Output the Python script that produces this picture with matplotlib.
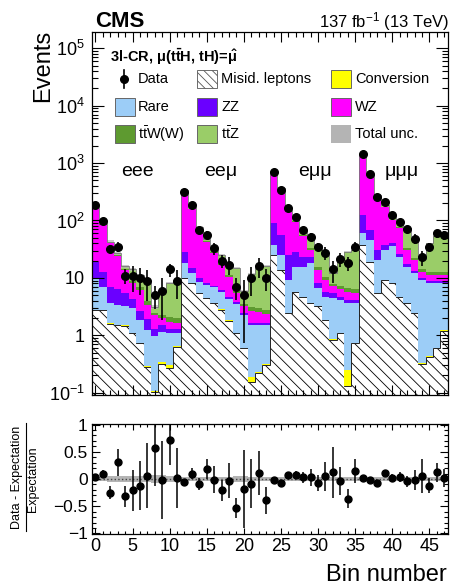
import numpy as np
import matplotlib
matplotlib.use('Agg')
import matplotlib.pyplot as plt
from matplotlib.patches import Rectangle
from matplotlib.lines import Line2D
from matplotlib.ticker import FixedLocator, FixedFormatter, MultipleLocator, NullFormatter

plt.rcParams['font.family'] = ['Liberation Sans', 'DejaVu Sans']
plt.rcParams['mathtext.fontset'] = 'custom'
plt.rcParams['mathtext.rm'] = 'Liberation Sans'
plt.rcParams['mathtext.it'] = 'Liberation Sans:italic'
plt.rcParams['mathtext.bf'] = 'Liberation Sans:bold'
plt.rcParams['mathtext.default'] = 'regular'
plt.rcParams['hatch.linewidth'] = 0.6

# ---------------- data ----------------
bin_number = np.arange(48)
channels = ['eee', 'ee\u03bc', 'e\u03bc\u03bc', '\u03bc\u03bc\u03bc']
channel_pos = [5.6, 16.9, 29.6, 41.3]

data = [186, 98, 32, 35, 11, 11, 10, 9, 5, 6, 14, 9,
        318, 186, 68, 56, 33, 20, 17, 7, 5, 10, 16, 10,
        690, 340, 163, 116, 68, 52, 35, 27, 14, 21, 18, 35,
        1440, 645, 260, 207, 124, 95, 70, 48, 23, 35, 60, 56]

misid = [2.8, 2.8, 1.6, 1.5, 1.45, 1.1, 0.73, 0.28, 0.10, 0.32, 0.27, 0.63,
         10, 8, 5.5, 4.5, 3.7, 2.8, 1.8, 1.1, 0.6, 0.15, 0.22, 0.3,
         25, 13.7, 2.4, 5.75, 4.7, 3.6, 3.2, 1.85, 0.83, 1.08, 0.127, 0.72,
         37, 19, 5.4, 9.2, 8.0, 4.7, 3.6, 2.4, 0.32, 0.42, 0.6, 1.2]
conversion = [0.01, 0.01, 0.01, 0.01, 0.05, 0.01, 0.01, 0.01, 0.005, 0.025, 0.03, 0.01,
              0.02, 0.02, 0.02, 0.02, 0.02, 0.02, 0.01, 0.01, 0.01, 0.04, 0.01, 0.01,
              0.05, 0.05, 0.02, 0.02, 0.02, 0.02, 0.02, 0.02, 0.02, 0.02, 0.12, 0.02,
              0.05, 0.05, 0.02, 0.02, 0.02, 0.02, 0.02, 0.02, 0.01, 0.01, 0.01, 0.01]
rare = [7.0, 4.2, 2.0, 1.9, 1.7, 1.9, 1.1, 0.95, 0.85, 0.8, 0.78, 0.45,
        8, 4, 3, 3, 3.1, 2.8, 2.5, 2.4, 1.6, 1.31, 1.28, 1.2,
        12, 11.3, 6.8, 10, 11, 14.3, 3.4, 2.85, 3.57, 3.0, 3.35, 2.88,
        24, 27, 15.1, 20.8, 28, 18.7, 12.1, 9.6, 8.9, 7.6, 7.4, 6.8]
zz = [9.2, 5.8, 3.4, 3.1, 2.3, 1.2, 0.85, 0.66, 0.35, 0.34, 0.22, 0.17,
      10, 3, 1.5, 0.7, 0.5, 0.5, 0.4, 0.3, 0.2, 0.15, 0.15, 0.15,
      52, 31, 15.8, 12.3, 7.7, 5.5, 1.4, 1.05, 1.0, 0.6, 0.5, 0.5,
      63, 22, 10.1, 8, 4, 2.6, 1.8, 1.0, 0.8, 0.8, 0.8, 0.8]
wz = [155, 72, 33, 17.5, 8.2, 3.8, 3.5, 1.5, 0.96, 0.48, 0.43, 0.35,
      292, 143, 56, 33.8, 19.7, 10.7, 5.8, 1.6, 0.8, 0.95, 0.85, 0.65,
      591, 294, 117, 67, 30.6, 7.2, 5.7, 3.45, 1.7, 1.6, 1.65, 1.3,
      1276, 562, 231.4, 132, 60, 47, 13.1, 7.5, 2.8, 2.4, 2.4, 2.4]
ttw = [1.5, 1.0, 0.8, 0.8, 0.5, 0.8, 0.7, 0.5, 0.2, 0.3, 0.35, 0.35,
       4, 3, 2, 1.2, 1.2, 1.0, 0.8, 0.6, 0.3, 0.5, 0.5, 0.5,
       5, 5, 3, 3, 2.5, 2.5, 1.5, 1.2, 0.8, 1.0, 1.0, 1.0,
       8, 6, 4, 4, 4, 3, 2.5, 2, 1.2, 1.2, 1.5, 1.5]
ttz = [3.5, 3.0, 2.2, 2.2, 1.8, 5.2, 4.2, 4.4, 0.64, 3.5, 6.0, 6.75,
       14, 8, 8, 3.8, 4.8, 7.2, 6.4, 8.9, 2.4, 8.4, 11.7, 13.3,
       12, 11, 7, 9, 9.5, 17.4, 22.4, 15.1, 4.3, 14.6, 22.05, 24.3,
       18, 15, 14, 12, 18, 15, 39.9, 26, 7.5, 27.4, 40.9, 42.3]

ratio = [0.04, 0.10, -0.25, 0.31, -0.32, -0.21, -0.12, 0.06, 0.57, -0.02, 0.71, 0.02,
         -0.06, 0.10, -0.10, 0.18, -0.01, -0.21, -0.03, -0.53, -0.18, -0.09, 0.11, -0.39,
         -0.01, -0.07, 0.07, 0.08, 0.03, 0.03, -0.07, 0.05, 0.12, -0.04, -0.36, 0.14,
         0.01, -0.01, -0.07, 0.11, 0.02, 0.04, -0.04, -0.02, 0.06, -0.12, 0.12, 0.02]
ratio_err = [0.05, 0.06, 0.12, 0.25, 0.19, 0.38, 0.45, 0.6, 0.7, 0.72, 0.45, 0.55,
             0.03, 0.1, 0.11, 0.18, 0.25, 0.2, 0.32, 0.19, 0.72, 0.45, 0.4, 0.25,
             0.02, 0.03, 0.06, 0.07, 0.1, 0.16, 0.15, 0.27, 0.47, 0.26, 0.17, 0.22,
             0.02, 0.02, 0.03, 0.05, 0.08, 0.09, 0.1, 0.19, 0.31, 0.14, 0.18, 0.17]
unc_rel = [0.04, 0.04, 0.05, 0.06, 0.06, 0.06, 0.05, 0.06, 0.08, 0.07, 0.05, 0.05,
           0.03, 0.03, 0.04, 0.04, 0.04, 0.04, 0.04, 0.05, 0.05, 0.04, 0.04, 0.04,
           0.03, 0.03, 0.03, 0.03, 0.03, 0.03, 0.03, 0.03, 0.04, 0.03, 0.03, 0.03,
           0.03, 0.03, 0.03, 0.03, 0.03, 0.03, 0.03, 0.03, 0.04, 0.03, 0.03, 0.03]

# ---------------- figure ----------------
W, H = 450, 587
fig = plt.figure(figsize=(W / 100, H / 100), dpi=100)

def fx(x):
    return x / W

def fy(y):
    return 1 - y / H

ax = fig.add_axes([fx(91.7), fy(395), (447.9 - 91.7) / W, (395 - 31.7) / H])
axr = fig.add_axes([fx(91.7), fy(534), (447.9 - 91.7) / W, (534 - 424) / H])

edges = np.arange(49) - 0.5
hatch = '\\\\\\'
col_conv = '#ffff00'
col_rare = '#9ccdf7'
col_zz = '#6a00ff'
col_wz = '#ff00ff'
col_ttw = '#5e9a30'
col_ttz = '#9acd68'
col_unc = '#b4b4b4'

comps = [(misid, 'white'), (conversion, col_conv), (rare, col_rare), (zz, col_zz),
         (wz, col_wz), (ttw, col_ttw), (ttz, col_ttz)]
base = np.full(48, 1e-3)
for k, (vals, col) in enumerate(comps):
    top = base + np.asarray(vals, dtype=float)
    if k == 0:
        ax.stairs(top, edges, baseline=base, fill=True, facecolor='white',
                  edgecolor='black', hatch=hatch, linewidth=0)
        ax.stairs(top, edges, baseline=None, fill=False, color='#222222', linewidth=0.7)
    else:
        ax.stairs(top, edges, baseline=base, fill=True, facecolor=col, linewidth=0)
    base = top
total = base

unc_abs = total * np.asarray(unc_rel)
ax.stairs(total + unc_abs, edges, baseline=total - unc_abs, fill=True,
          facecolor=col_unc, alpha=0.7, linewidth=0)
ax.stairs(total, edges, baseline=None, fill=False, color='#777777', linewidth=0.6)

data_err = np.asarray(ratio_err) * total
ax.errorbar(bin_number, data, yerr=data_err, fmt='o', color='black', ms=5.5,
            elinewidth=1.2, capsize=0, zorder=5)

ax.set_yscale('log')
ax.set_xlim(-0.5, 47.5)
ax.set_ylim(0.091, 1.95e5)
ax.yaxis.set_major_locator(FixedLocator([0.1, 1, 10, 100, 1e3, 1e4, 1e5]))
ax.yaxis.set_major_formatter(FixedFormatter(['10$^{-1}$', '1', '10', '10$^{2}$',
                                             '10$^{3}$', '10$^{4}$', '10$^{5}$']))
minors = [m * 10.0 ** e for e in range(-2, 6) for m in range(2, 10)]
ax.yaxis.set_minor_locator(FixedLocator(minors))
ax.yaxis.set_minor_formatter(NullFormatter())
ax.xaxis.set_major_locator(MultipleLocator(5))
ax.xaxis.set_minor_locator(MultipleLocator(1))
ax.xaxis.set_major_formatter(NullFormatter())
ax.tick_params(which='both', direction='in', top=True, right=True, width=0.8)
ax.tick_params(axis='y', which='major', length=8.5, labelsize=13, pad=5)
ax.tick_params(axis='y', which='minor', length=4.3)
ax.tick_params(axis='x', which='major', length=7)
ax.tick_params(axis='x', which='minor', length=3.5)
for s in ax.spines.values():
    s.set_linewidth(0.9)

for name, xp in zip(channels, channel_pos):
    ax.text(xp, 728, name, ha='center', va='center', fontsize=14)

# ratio panel
axr.stairs(np.asarray(unc_rel), edges, baseline=-np.asarray(unc_rel), fill=True,
           facecolor=col_unc, linewidth=0)
axr.axhline(0, color='#444444', lw=1.0, ls=':')
axr.errorbar(bin_number, ratio, yerr=ratio_err, fmt='o', color='black', ms=5,
             elinewidth=1.1, capsize=0, zorder=5)
axr.set_xlim(-0.5, 47.5)
axr.set_ylim(-1.01, 1.01)
axr.yaxis.set_major_locator(FixedLocator([-1, -0.5, 0, 0.5, 1]))
axr.yaxis.set_major_formatter(FixedFormatter(['\u22121', '\u22120.5', '0', '0.5', '1']))
axr.yaxis.set_minor_locator(MultipleLocator(0.1))
axr.xaxis.set_major_locator(MultipleLocator(5))
axr.xaxis.set_minor_locator(MultipleLocator(1))
axr.tick_params(which='both', direction='in', top=True, right=True, width=0.8)
axr.tick_params(axis='y', which='major', length=6, labelsize=12.5, pad=3)
axr.tick_params(axis='y', which='minor', length=3)
axr.tick_params(axis='x', which='major', length=4, labelsize=13, pad=3)
axr.tick_params(axis='x', which='minor', length=2)
for s in axr.spines.values():
    s.set_linewidth(0.9)

# ---------------- texts ----------------
fig.text(fx(95), fy(27), 'CMS', fontsize=16, fontweight='bold', ha='left', va='baseline')
fig.text(fx(449), fy(27), '137 fb$^{-1}$ (13 TeV)', fontsize=12, ha='right', va='baseline')
fig.text(fx(43), fy(30), 'Events', rotation=90, fontsize=17, ha='center', va='top')
fig.text(fx(447), fy(581), 'Bin number', fontsize=17, ha='right', va='baseline')
fig.text(fx(17.5), fy(477), 'Data - Expectation', rotation=90, fontsize=9,
         ha='center', va='center')
fig.text(fx(33), fy(479), 'Expectation', rotation=90, fontsize=9,
         ha='center', va='center')
fig.add_artist(Line2D([fx(25.5), fx(25.5)], [fy(423), fy(531)], color='black', lw=0.8))

# ---------------- legend ----------------
fig.text(fx(110), fy(57), r'3l-CR, $\mu$(t$\bar{t}$H, tH)=$\hat{\mu}$', fontsize=10.5,
         fontweight='bold', ha='left', va='center')
rows = [79, 107, 134]
box_x = [115, 197, 331]
text_x = [138, 221, 355]
entries = [
    (0, 0, 'Data', 'data'), (0, 1, 'Misid. leptons', 'hatch'), (0, 2, 'Conversion', col_conv),
    (1, 0, 'Rare', col_rare), (1, 1, 'ZZ', col_zz), (1, 2, 'WZ', col_wz),
    (2, 0, r't$\bar{t}$W(W)', col_ttw), (2, 1, r't$\bar{t}$Z', col_ttz),
    (2, 2, 'Total unc.', 'unc'),
]
bw, bh = 20, 18
for r, c, label, kind in entries:
    yc = rows[r]
    x0 = box_x[c]
    if kind == 'data':
        fig.add_artist(Line2D([fx(124), fx(124)], [fy(yc - 9), fy(yc + 9)], color='black', lw=1.2))
        fig.add_artist(Line2D([fx(124)], [fy(yc)], marker='o', ms=5.5, color='black'))
    elif kind == 'hatch':
        fig.add_artist(Rectangle((fx(x0), fy(yc + bh / 2)), bw / W, bh / H, facecolor='white',
                                 edgecolor='#555555', hatch='\\\\\\\\', lw=0.6,
                                 transform=fig.transFigure))
    elif kind == 'unc':
        fig.add_artist(Rectangle((fx(x0), fy(yc + bh / 2)), bw / W, bh / H, facecolor=col_unc,
                                 edgecolor='none', lw=0, transform=fig.transFigure))
    else:
        fig.add_artist(Rectangle((fx(x0), fy(yc + bh / 2)), bw / W, bh / H, facecolor=kind,
                                 edgecolor='#666666', lw=0.7, transform=fig.transFigure))
    fig.text(fx(text_x[c]), fy(yc), label, fontsize=10.5, ha='left', va='center')

fig.savefig('out.png', dpi=100)
